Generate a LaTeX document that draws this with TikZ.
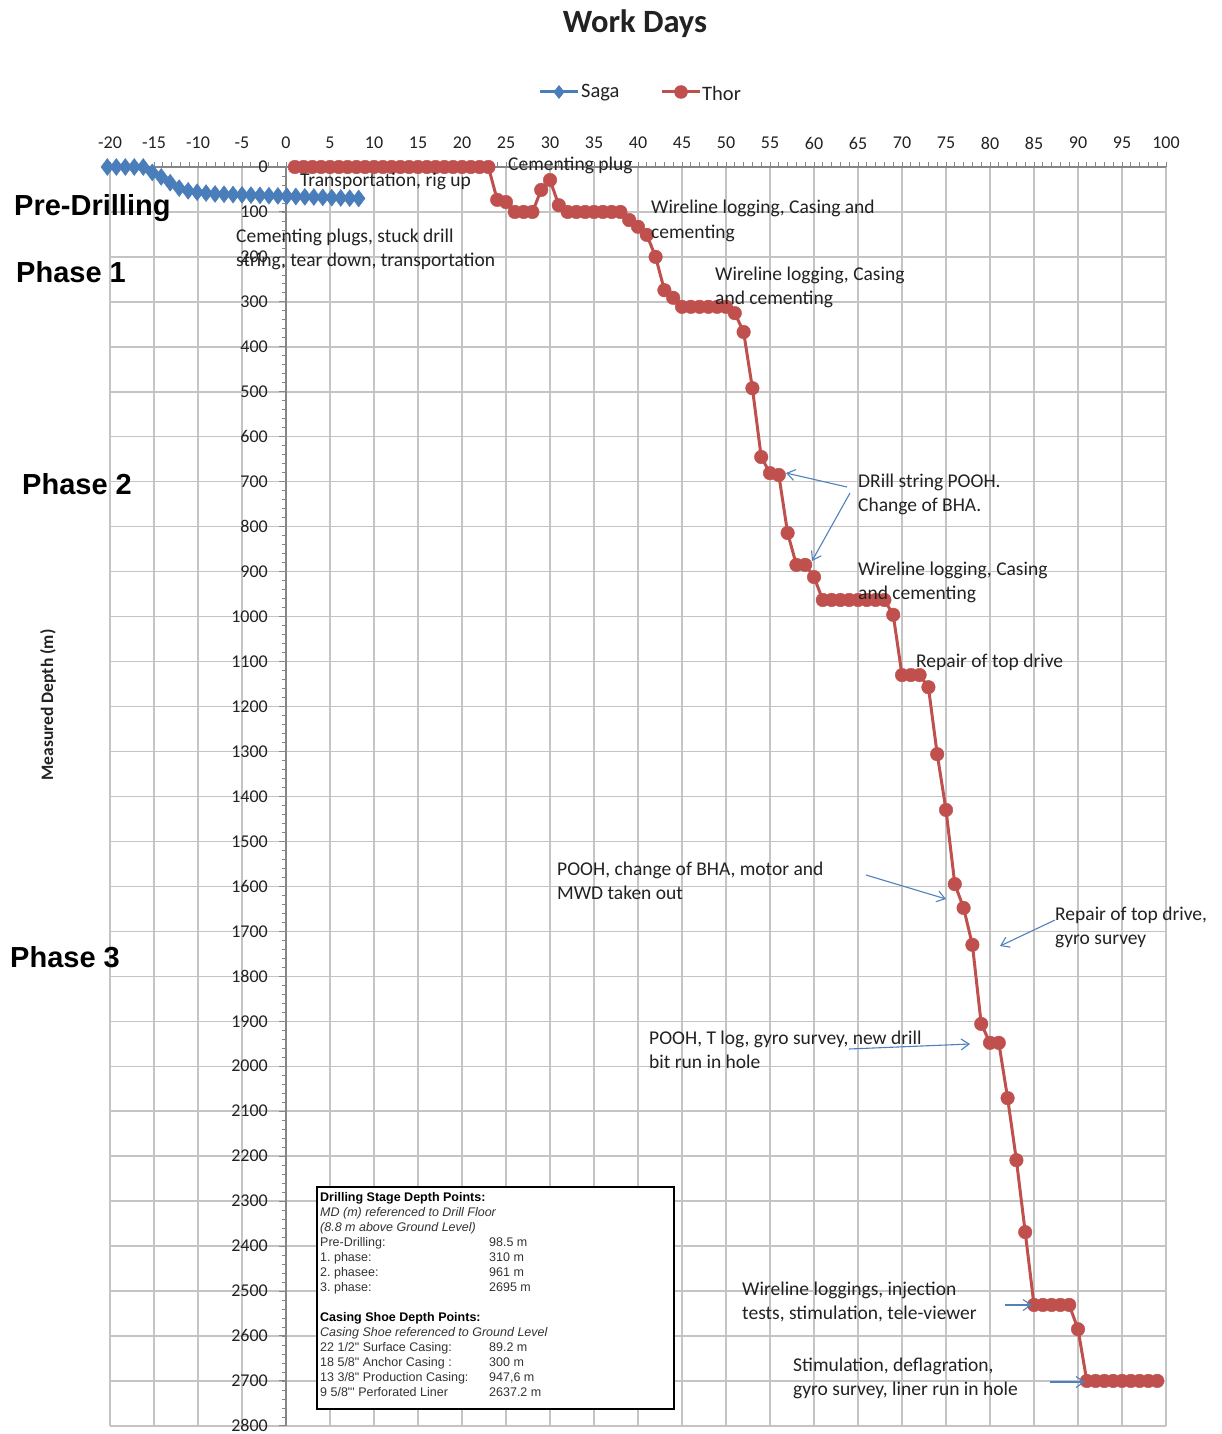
\documentclass[tikz,border=0pt]{standalone}
\usepackage{fontspec}
\setmainfont{Carlito}
\newfontfamily\arialf{Liberation Sans}
\usetikzlibrary{arrows.meta,plotmarks}
\definecolor{sagablue}{HTML}{4A7EBB}
\definecolor{thorred}{HTML}{C0504D}
\definecolor{gridgray}{HTML}{C4C4C4}
\definecolor{axisgray}{HTML}{868686}
\definecolor{txt}{HTML}{222222}
\definecolor{arrowblue}{HTML}{4F81BD}
\newcommand{\annlines}[1]{\begin{tabular}[t]{@{}l@{}}#1\end{tabular}}
\frenchspacing
\begin{document}
\begin{tikzpicture}[x=1pt,y=-1pt,
  gridline/.style={draw=gridgray, line width=1.4pt},
  axisline/.style={draw=axisgray, line width=1.4pt},
  ticklab/.style={font=\fontsize{18}{20}\selectfont, text=txt, inner sep=0pt},
  annot/.style={font=\fontsize{19.5}{24.5}\selectfont, text=txt, inner sep=0pt, anchor=base west},
  phaselab/.style={font=\arialf\bfseries\fontsize{29}{31}\selectfont, inner sep=0pt, anchor=base west},
  callout/.style={draw=arrowblue, line width=1.1pt, -{Straight Barb[length=8pt,width=11pt]}},
  thorline/.style={draw=thorred, line width=3pt},
  sagaline/.style={draw=sagablue, line width=3pt},
]
\useasboundingbox (0,0) rectangle (1222,1434);
\fill[white] (0,0) rectangle (1222,1434);
% grid
\foreach \d in {-20,-15,...,100} \draw[gridline] ({286+8.8*\d},167) -- ({286+8.8*\d},1426);
\foreach \m in {100,200,...,2800} \draw[gridline] (110,{167+0.4496*\m}) -- (1166,{167+0.4496*\m});
% axes
\draw[axisline] (110,167) -- (1166,167);
\foreach \d in {-20,...,100} \draw[draw=axisgray, line width=0.8pt] ({286+8.8*\d},167) -- ({286+8.8*\d},162.5);
\draw[axisline] (286,167) -- (286,1426);
\foreach \m in {0,20,...,2800} \draw[draw=axisgray, line width=0.8pt] (286,{167+0.4496*\m}) -- (281.5,{167+0.4496*\m});
\foreach \m in {0,100,...,2800} \draw[draw=axisgray, line width=1pt] (286,{167+0.4496*\m}) -- (279,{167+0.4496*\m});
% tick labels
\foreach \d in {-20,-15,...,100} \node[ticklab] (xl\d) at ({286+8.8*\d},143) {\d};
\foreach \m in {0,100,...,2800} \node[ticklab, anchor=east] (yl\m) at (268,{167+0.4496*\m}) {\m};
% data
\begin{scope}[shift={(286,167)}, x=8.8pt, y=-0.4496pt]
\draw[sagaline] plot[mark=diamond*, mark size=8.5pt, mark options={fill=sagablue, draw=sagablue, line width=0.4pt}] coordinates {
(-20.30,0) (-19.28,0) (-18.26,0) (-17.24,0) (-16.22,0) (-15.20,12) (-14.18,22) (-13.16,35) (-12.14,47) (-11.12,53)
(-10.10,56) (-9.08,58) (-8.06,60) (-7.04,60.6) (-6.02,61.3) (-5.00,61.9) (-3.98,62.5) (-2.96,63.1) (-1.94,63.8) (-0.92,64.4)
(0.10,65) (1.12,65.6) (2.14,66.3) (3.16,66.9) (4.18,67.5) (5.20,68.1) (6.22,68.8) (7.24,69.4) (8.26,70)};
\draw[thorline] plot[mark=*, mark size=6.8pt, mark options={fill=thorred, draw=thorred, line width=0.4pt}] coordinates {
(1,0) (2,0) (3,0) (4,0) (5,0) (6,0) (7,0) (8,0) (9,0) (10,0) (11,0) (12,0) (13,0) (14,0) (15,0) (16,0) (17,0) (18,0) (19,0) (20,0) (21,0) (22,0) (23,0)
(24,73) (25,78) (26,100) (27,100) (28,100) (29,51) (30,29) (31,85)
(32,100) (33,100) (34,100) (35,100) (36,100) (37,100) (38,100)
(39,118) (40,133) (41,151) (42,200) (43,274) (44,291)
(45,311) (46,311) (47,311) (48,311) (49,311) (50,311)
(51,325) (52,367) (53,492) (54,645) (55,681) (56,685) (57,814) (58,885) (59,885) (60,912)
(61,963) (62,963) (63,963) (64,963) (65,963) (66,963) (67,963) (68,963)
(69,996) (70,1130) (71,1130) (72,1130) (73,1157) (74,1306) (75,1430) (76,1595) (77,1648) (78,1730)
(79,1906) (80,1948) (81,1948) (82,2071) (83,2209) (84,2369)
(85,2531) (86,2531) (87,2531) (88,2531) (89,2531) (90,2585)
(91,2700) (92,2700) (93,2700) (94,2700) (95,2700) (96,2700) (97,2700) (98,2700) (99,2700)};
\end{scope}
% title and legend
\node[font=\bfseries\fontsize{32.5}{36}\selectfont, text=txt, anchor=base, inner sep=0pt] (title) at (635,33) {Work Days};
\draw[sagaline] (540,92) -- (578,92);
\fill[sagablue] (559,85) -- (564.5,92) -- (559,99) -- (553.5,92) -- cycle;
\node[font=\fontsize{20.5}{24}\selectfont, text=txt, anchor=west, inner sep=0pt] (legsaga) at (581,93) {Saga};
\draw[thorline] (662,92) -- (700,92);
\fill[thorred] (681,92) circle[radius=6.8];
\node[font=\fontsize{20.5}{24}\selectfont, text=txt, anchor=west, inner sep=0pt] (legthor) at (702,93) {Thor};
% axis title
\node[rotate=90, font=\bfseries\fontsize{17.5}{20}\selectfont, text=txt, inner sep=0pt] (ytitle) at (48,705) {Measured Depth (m)};
% phase labels
\node[phaselab] (pre) at (14,215.5) {Pre-Drilling};
\node[phaselab] (ph1) at (16,282) {Phase 1};
\node[phaselab] (ph2) at (22,494) {Phase 2};
\node[phaselab] (ph3) at (10,967) {Phase 3};
% annotations
\node[annot] (a1) at (300,186) {\annlines{Transportation, rig up}};
\node[annot] (a2) at (508,171) {\annlines{Cementing plug}};
\node[annot] (a3) at (236,242) {\annlines{Cementing plugs, stuck drill\\string, tear down, transportation}};
\node[annot] (a4) at (651,214) {\annlines{Wireline logging, Casing and\\cementing}};
\node[annot] (a5) at (715,280) {\annlines{Wireline logging, Casing\\and cementing}};
\node[annot] (a6) at (858,487) {\annlines{DRill string POOH.\\Change of BHA.}};
\node[annot] (a7) at (858,575) {\annlines{Wireline logging, Casing\\and cementing}};
\node[annot] (a8) at (916,667) {\annlines{Repair of top drive}};
\node[annot] (a9) at (557,875) {\annlines{POOH, change of BHA, motor and\\MWD taken out}};
\node[annot] (a10) at (1055,920) {\annlines{Repair of top drive,\\gyro survey}};
\node[annot] (a11) at (649,1044) {\annlines{POOH, T log, gyro survey, new drill\\bit run in hole}};
\node[annot] (a12) at (742,1295) {\annlines{Wireline loggings, injection\\tests, stimulation, tele-viewer}};
\node[annot] (a13) at (793,1371) {\annlines{Stimulation, deflagration,\\gyro survey, liner run in hole}};
% callout arrows
\coordinate (c1s) at (847,487); \coordinate (c1e) at (786,473);
\coordinate (c2s) at (850,493); \coordinate (c2e) at (812,561);
\coordinate (c3s) at (866,875); \coordinate (c3e) at (946,899);
\coordinate (c4s) at (1055,920); \coordinate (c4e) at (1000,946);
\coordinate (c5s) at (849,1049); \coordinate (c5e) at (970,1044);
\coordinate (c6s) at (1005,1305); \coordinate (c6e) at (1032,1305);
\coordinate (c7s) at (1050,1382); \coordinate (c7e) at (1085,1382);
\draw[callout] (c1s) -- (c1e);
\draw[callout] (c2s) -- (c2e);
\draw[callout] (c3s) -- (c3e);
\draw[callout] (c4s) -- (c4e);
\draw[callout] (c5s) -- (c5e);
\draw[callout] (c6s) -- (c6e);
\draw[callout] (c7s) -- (c7e);
% inset box
\node[draw=black, line width=1.6pt, fill=white, minimum width=357pt, minimum height=222pt, anchor=north west, inner sep=0pt] (inset) at (316,1186) {};
\node[anchor=base west, inner sep=0pt, text=black!80, font=\arialf\fontsize{12.5}{15}\selectfont] (insettext) at (320,1201.5) {%
\begin{tabular}[t]{@{}p{169pt}@{}l@{}}
\multicolumn{2}{@{}l@{}}{\textcolor{black}{\textbf{Drilling Stage Depth Points:}}}\\
\multicolumn{2}{@{}l@{}}{\textit{MD (m) referenced to Drill Floor}}\\
\multicolumn{2}{@{}l@{}}{\textit{(8.8 m above Ground Level)}}\\
Pre-Drilling: & 98.5 m\\
1. phase: & 310 m\\
2. phasee: & 961 m\\
3. phase: & 2695 m\\
 & \\
\multicolumn{2}{@{}l@{}}{\textcolor{black}{\textbf{Casing Shoe Depth Points:}}}\\
\multicolumn{2}{@{}l@{}}{\textit{Casing Shoe referenced to Ground Level}}\\
22 1/2" Surface Casing: & 89.2 m\\
18 5/8" Anchor Casing : & 300 m\\
13 3/8" Production Casing: & 947,6 m\\
9 5/8"' Perforated Liner & 2637.2 m
\end{tabular}};
\end{tikzpicture}
\end{document}
